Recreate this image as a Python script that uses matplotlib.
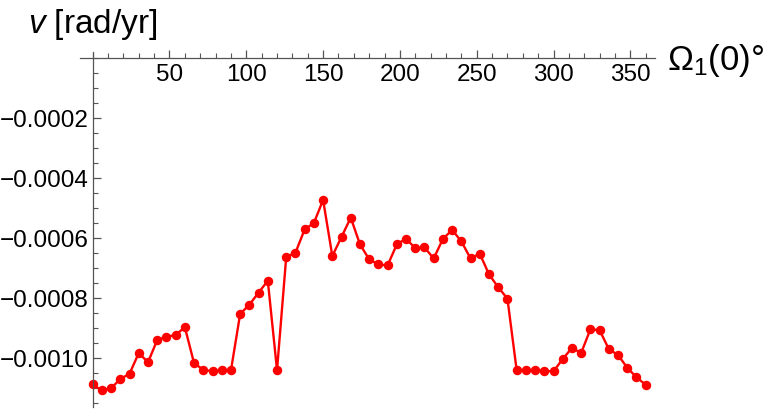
import numpy as np
import matplotlib
matplotlib.use("Agg")
import matplotlib.pyplot as plt
from matplotlib.ticker import MultipleLocator, FuncFormatter

plt.rcParams['font.family'] = ['Liberation Sans', 'DejaVu Sans']
plt.rcParams['mathtext.fontset'] = 'custom'
plt.rcParams['mathtext.rm'] = 'Liberation Sans'
plt.rcParams['mathtext.it'] = 'Liberation Sans:italic'

# Omega_1(0) in degrees, 6 degree step
omega = list(range(0, 361, 6))
# v [rad/yr]
v = [-0.001088, -0.001108, -0.001100, -0.001070, -0.001052, -0.000983, -0.001014,
     -0.000940, -0.000929, -0.000923, -0.000897, -0.001017, -0.001039, -0.001044,
     -0.001041, -0.001041, -0.000853, -0.000822, -0.000782, -0.000742, -0.001040,
     -0.000663, -0.000649, -0.000571, -0.000550, -0.000473, -0.000660, -0.000596,
     -0.000532, -0.000621, -0.000671, -0.000688, -0.000691, -0.000621, -0.000602,
     -0.000634, -0.000631, -0.000668, -0.000603, -0.000573, -0.000611, -0.000668,
     -0.000652, -0.000721, -0.000764, -0.000802, -0.001040, -0.001040, -0.001040,
     -0.001043, -0.001044, -0.001003, -0.000966, -0.000983, -0.000904, -0.000907,
     -0.000970, -0.000990, -0.001032, -0.001064, -0.001089]

xticks = [50, 100, 150, 200, 250, 300, 350]
yticks = [-0.0010, -0.0008, -0.0006, -0.0004, -0.0002]

W, H = 768, 409
fig = plt.figure(figsize=(W / 100, H / 100), dpi=100)
ax = fig.add_axes([80.4 / W, 2 / H, 574.5 / W, 355 / H])
ax.set_xlim(-8, 366)
ax.set_ylim(-0.001163, 0.00002)

ax.plot(omega, v, color='#ff0000', lw=1.7, marker='o', ms=5.8, mec='#ff0000', mfc='#ff0000')

axcol = '#555555'
for s in ['top', 'right']:
    ax.spines[s].set_visible(False)
ax.spines['left'].set_position(('data', 0))
ax.spines['bottom'].set_position(('data', 0))
for s in ['left', 'bottom']:
    ax.spines[s].set_color(axcol)
    ax.spines[s].set_linewidth(0.9)

ax.set_xticks(xticks)
ax.xaxis.set_minor_locator(MultipleLocator(10))
ax.set_yticks(yticks)
ax.yaxis.set_minor_locator(MultipleLocator(0.00005))
ax.yaxis.set_major_formatter(FuncFormatter(lambda val, pos: f"{val:.4f}".replace('-', '\u2212')))
ax.xaxis.set_major_formatter(FuncFormatter(lambda val, pos: f"{int(round(val))}"))

ax.tick_params(axis='both', which='both', direction='in', color=axcol, labelsize=17.5)
ax.tick_params(axis='both', which='major', length=5.5, width=0.9)
ax.tick_params(axis='both', which='minor', length=3.5, width=0.8)
ax.tick_params(axis='x', which='major', pad=4)
ax.tick_params(axis='y', which='major', pad=3)

fig.text(28 / W, 1 - 33 / H, r"$v$ [rad/yr]", fontsize=24, ha='left', va='baseline')
fig.text(667 / W, 1 - 70 / H, r"$\Omega_1$(0)°", fontsize=25, ha='left', va='baseline')

fig.savefig('out.png', dpi=100)
